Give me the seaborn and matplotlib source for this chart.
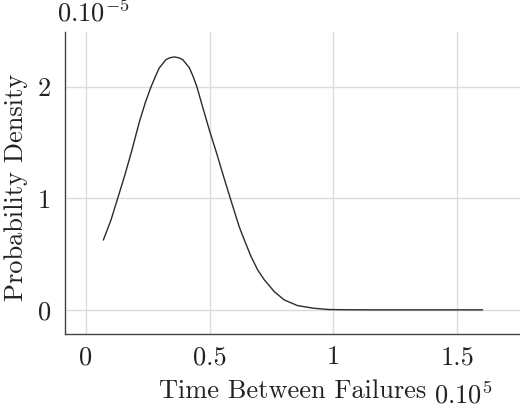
import pandas as pd
import matplotlib
matplotlib.use('Agg')
import matplotlib.pyplot as plt
import seaborn as sns

# values (x in units of 1e5, y in units of 1e-5)
time_between_failures = [0.070, 0.101, 0.128, 0.155, 0.182, 0.215, 0.240, 0.263, 0.280, 0.296,
                         0.323, 0.340, 0.357, 0.374, 0.391, 0.418, 0.433, 0.448, 0.471, 0.500,
                         0.528, 0.552, 0.583, 0.619, 0.640, 0.667, 0.694, 0.721, 0.761, 0.801,
                         0.855, 0.922, 0.980, 1.050, 1.150, 1.300, 1.450, 1.603]
probability_density = [0.626, 0.806, 1.000, 1.194, 1.403, 1.680, 1.860, 2.000, 2.090, 2.168,
                       2.242, 2.260, 2.266, 2.260, 2.242, 2.168, 2.090, 2.000, 1.820, 1.600,
                       1.403, 1.224, 1.000, 0.745, 0.626, 0.477, 0.357, 0.268, 0.163, 0.089,
                       0.038, 0.014, 0.003, 0.001, 0.000, 0.000, 0.000, 0.000]
x_ticks = [0, 0.5, 1, 1.5]
x_tick_labels = ['0', '0.5', '1', '1.5']
y_ticks = [0, 1, 2]
y_tick_labels = ['0', '1', '2']

df = pd.DataFrame({'Time': time_between_failures, 'Density': probability_density})

sns.set_style('white')
plt.rcParams['font.family'] = ['cmr10', 'DejaVu Serif']
plt.rcParams['mathtext.fontset'] = 'cm'
plt.rcParams['axes.formatter.use_mathtext'] = True

fig = plt.figure(figsize=(5.2, 4.07), dpi=100)
ax = fig.add_axes([65 / 520, (407 - 334.3) / 407, 1 - 65 / 520, (334.3 - 32) / 407])

sns.lineplot(data=df, x='Time', y='Density', ax=ax, color='#2b2b2b', linewidth=1.0,
             sort=False, estimator=None)

ax.set_xlim(-0.085, 1.754)
ax.set_ylim(-0.219, 2.49)
ax.set_xticks(x_ticks)
ax.set_xticklabels(x_tick_labels)
ax.set_yticks(y_ticks)
ax.set_yticklabels(y_tick_labels)
ax.tick_params(axis='both', length=0, labelsize=19, colors='#222222')
ax.tick_params(axis='x', pad=8)
ax.tick_params(axis='y', pad=10)

ax.grid(True, color='#dcdcdc', linewidth=1.0)
ax.set_axisbelow(True)
for side in ['top', 'right']:
    ax.spines[side].set_visible(False)
for side in ['left', 'bottom']:
    ax.spines[side].set_color('#444444')
    ax.spines[side].set_linewidth(1.0)

ax.set_xlabel('Time Between Failures', fontsize=19, color='#222222', labelpad=7)
ax.set_ylabel('Probability Density', fontsize=19, color='#222222')
ax.yaxis.set_label_coords(-0.081, 0.486)

# scale labels like pgfplots
fig.text(57 / 520, 1 - 22 / 407, r'$0.10^{-5}$', fontsize=19, va='baseline', ha='left', color='#222222')
fig.text(434 / 520, 1 - 403 / 407, r'$0.10^{5}$', fontsize=19, va='baseline', ha='left', color='#222222')

fig.savefig('out.png', dpi=100)
